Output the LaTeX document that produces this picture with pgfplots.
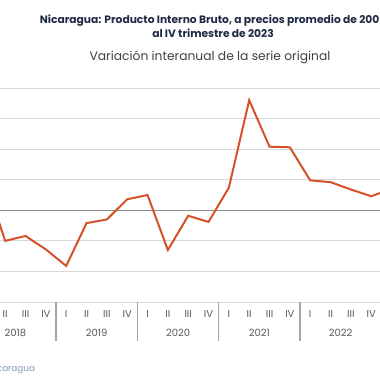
\documentclass[border=0pt]{standalone}
\usepackage{pgfplots}
\pgfplotsset{compat=1.18}
\usepackage{fontspec}
\setmainfont{Poppins}
\definecolor{lineor}{HTML}{D5512A}
\definecolor{gridc}{HTML}{D9D9D9}
\definecolor{zeroc}{HTML}{8C8C8C}
\definecolor{sepc}{HTML}{A6A6A6}
\definecolor{labc}{HTML}{595959}
\definecolor{titc}{HTML}{1F2A44}
\definecolor{subc}{HTML}{404040}
\definecolor{srcc}{HTML}{8497B0}
\begin{document}
\begin{tikzpicture}[x=1pt,y=1pt]
\useasboundingbox (0,0) rectangle (380,380);
\clip (0,0) rectangle (380,380);
\node[font=\bfseries\fontsize{10.7}{14}\selectfont, text=titc, align=center] at (213,354) {Nicaragua: Producto Interno Bruto, a precios promedio de 2006\\al IV trimestre de 2023};
\node[font=\fontsize{12.3}{14}\selectfont, text=subc] at (210,323) {Variación interanual de la serie original};
\node[font=\fontsize{8.8}{10}\selectfont, text=srcc, anchor=base east] at (38.5,8.5) {Fuente: Banco Central de Nicaragua};
\begin{axis}[
  at={(-25.3pt,78pt)}, anchor=south west, scale only axis,
  width=488pt, height=214pt,
  xmin=-0.5, xmax=23.5, ymin=-15, ymax=20,
  ytick={-15,-10,...,20}, yticklabels={},
  ymajorgrids, grid style={gridc, line width=0.9pt},
  extra y ticks={0}, extra y tick labels={},
  extra y tick style={grid=major, grid style={zeroc, line width=1.1pt}},
  axis line style={draw=none},
  xtick pos=bottom, ytick pos=left,
  tick align=outside,
  major tick length=0pt,
  xtick={0,...,23},
  xticklabels={I,II,III,IV,I,II,III,IV,I,II,III,IV,I,II,III,IV,I,II,III,IV,I,II,III,IV},
  minor xtick={-0.5,3.5,...,23.5},
  minor tick length=38.7pt,
  minor tick style={draw=sepc, line width=1.2pt},
  xticklabel style={font=\fontsize{10}{10}\selectfont, text=labc, anchor=base, yshift=-15.5pt},
  extra x ticks={1.5,5.5,9.5,13.5,17.5,21.5},
  extra x tick labels={2018,2019,2020,2021,2022,2023},
  extra x tick style={major tick length=0pt, xticklabel style={yshift=-19pt}},
]
\addplot[lineor, line width=2pt, line join=miter] coordinates {
(0,4.9) (1,-5.0) (2,-4.2) (3,-6.4)
(4,-9.1) (5,-2.1) (6,-1.5) (7,1.8)
(8,2.5) (9,-6.5) (10,-0.9) (11,-1.9)
(12,3.7) (13,18.0) (14,10.4) (15,10.3)
(16,4.9) (17,4.6) (18,3.4) (19,2.3)
(20,3.5)
};
\end{axis}
\end{tikzpicture}
\end{document}
